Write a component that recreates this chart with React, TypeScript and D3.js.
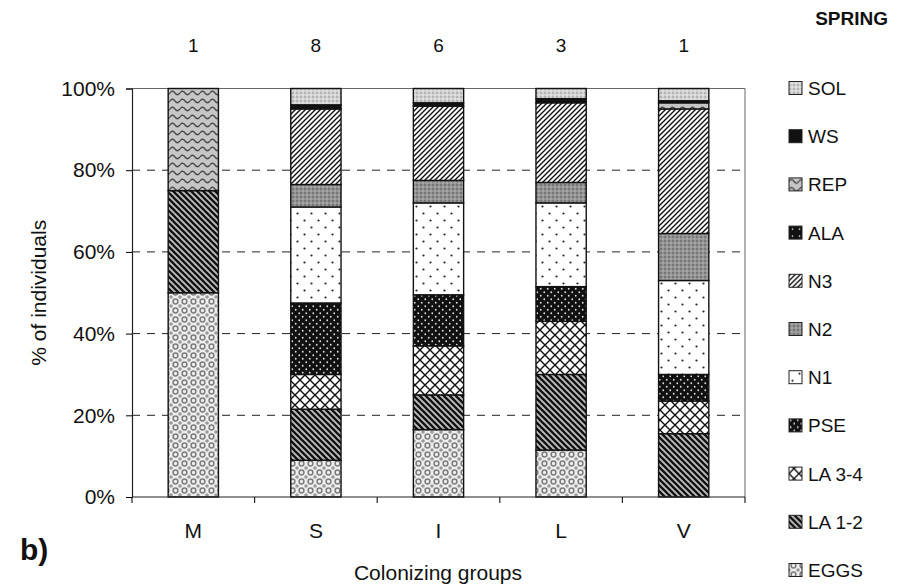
import React, { useRef, useEffect } from 'react';
import * as d3 from 'd3';

// colonizing groups and number of individuals in each
const categories = ['M', 'S', 'I', 'L', 'V'];
const nIndividuals = [1, 8, 6, 3, 1];

// % of individuals per stage (bottom -> top), one value per group
const eggs = [50, 9, 16.5, 11.5, 0];
const la12 = [25, 12.5, 8.5, 18.5, 15.5];
const la34 = [0, 8.5, 12, 13, 8];
const pse = [0, 17.5, 12.5, 8.5, 6.5];
const n1 = [0, 23.5, 22.5, 20.5, 23];
const n2 = [0, 5.5, 5.5, 5, 11.5];
const n3 = [0, 18.5, 18.2, 19.5, 30.5];
const ala = [0, 0, 0, 0, 0];
const rep = [25, 0, 0, 0, 1.5];
const ws = [0, 1, 0.8, 1, 0.5];
const sol = [0, 4, 3.5, 2.5, 3];

const stages = ['EGGS', 'LA 1-2', 'LA 3-4', 'PSE', 'N1', 'N2', 'N3', 'ALA', 'REP', 'WS', 'SOL'];
const stageValues = [eggs, la12, la34, pse, n1, n2, n3, ala, rep, ws, sol];
const legendOrder = [...stages].reverse();
const yTicks = [0, 20, 40, 60, 80, 100];

const patId = (s) => 'pat-' + s.replace(/[^A-Za-z0-9]/g, '');

function addPatterns(defs) {
  const mk = (key, w, h, bg) => {
    const p = defs.append('pattern')
      .attr('id', patId(key))
      .attr('patternUnits', 'userSpaceOnUse')
      .attr('width', w).attr('height', h);
    p.append('rect').attr('width', w).attr('height', h).attr('fill', bg);
    return p;
  };
  const dot = (p, cx, cy, r, fill) => p.append('circle').attr('cx', cx).attr('cy', cy).attr('r', r).attr('fill', fill);

  // SOL - light fine stipple
  let p = mk('SOL', 4, 4, '#d2d2d2');
  dot(p, 1, 1, 0.7, '#808080'); dot(p, 3, 3, 0.7, '#f4f4f4');

  // WS - solid black
  mk('WS', 4, 4, '#111');

  // REP - grey with wavy lines
  p = mk('REP', 10, 8, '#c6c6c6');
  p.append('path').attr('d', 'M0,5 Q2.5,1.5 5,5 T10,5').attr('fill', 'none').attr('stroke', '#4a4a4a').attr('stroke-width', 1.3);

  // ALA - black with sparse white dot
  p = mk('ALA', 7, 7, '#111');
  dot(p, 3.5, 3.5, 0.8, '#fff');

  // N3 - forward diagonal hatch
  p = mk('N3', 5, 5, '#fff');
  p.append('path').attr('d', 'M-1,1 L1,-1 M0,5 L5,0 M4,6 L6,4').attr('stroke', '#111').attr('stroke-width', 1.4);

  // N2 - darker grey stipple
  p = mk('N2', 4, 4, '#939393');
  dot(p, 1, 1, 0.8, '#555'); dot(p, 3, 3, 0.7, '#c4c4c4');

  // N1 - white with sparse dots
  p = mk('N1', 14, 14, '#fff');
  dot(p, 3.5, 3.5, 1.1, '#222'); dot(p, 10.5, 10.5, 1.1, '#222');

  // PSE - black with white dots
  p = mk('PSE', 7, 7, '#111');
  dot(p, 1.75, 1.75, 0.9, '#ddd'); dot(p, 5.25, 5.25, 0.9, '#ddd');

  // LA 3-4 - crosshatch
  p = mk('LA 3-4', 10, 10, '#fff');
  p.append('path').attr('d', 'M0,0 L10,10 M10,0 L0,10').attr('stroke', '#111').attr('stroke-width', 1.4);

  // LA 1-2 - thick back diagonal lines on grey
  p = mk('LA 1-2', 6, 6, '#bdbdbd');
  p.append('path').attr('d', 'M-3,3 L3,9 M0,0 L6,6 M3,-3 L9,3').attr('stroke', '#111').attr('stroke-width', 2.3);

  // EGGS - light grey with round blobs
  p = mk('EGGS', 9, 9, '#eeeeee');
  p.append('circle').attr('cx', 4.5).attr('cy', 4.5).attr('r', 2.4).attr('fill', 'none').attr('stroke', '#7c7c7c').attr('stroke-width', 1.5);
  [[0, 0], [9, 0], [0, 9], [9, 9]].forEach(([cx, cy]) => dot(p, cx, cy, 1.8, '#9a9a9a'));
}

const App = () => {
  const svgRef = useRef(null);
  const width = 898;
  const height = 587;

  useEffect(() => {
    const svg = d3.select(svgRef.current);
    svg.selectAll('*').remove();
    const font = 'Liberation Sans, Arial, sans-serif';

    addPatterns(svg.append('defs'));

    const x = d3.scaleBand().domain(categories).range([132, 745]).paddingInner(0.59).paddingOuter(0.295);
    const y = d3.scaleLinear().domain([0, 100]).range([497, 88.5]);

    const rows = categories.map((c, i) => {
      const r = { group: c };
      stages.forEach((s, k) => { r[s] = stageValues[k][i]; });
      return r;
    });
    const series = d3.stack().keys(stages)(rows);

    // plot frame (top + right)
    svg.append('path')
      .attr('d', `M132,${y(100)} H745 V${y(0)}`)
      .attr('fill', 'none').attr('stroke', '#666').attr('stroke-width', 1);

    // dashed gridlines
    svg.append('g').selectAll('line')
      .data(yTicks.filter(t => t > 0 && t < 100))
      .enter().append('line')
      .attr('x1', 132).attr('x2', 745)
      .attr('y1', d => y(d)).attr('y2', d => y(d))
      .attr('stroke', '#222').attr('stroke-width', 1).attr('stroke-dasharray', '8,7');

    // bars
    svg.append('g').selectAll('g')
      .data(series)
      .enter().append('g')
      .attr('fill', d => `url(#${patId(d.key)})`)
      .selectAll('rect')
      .data(d => d.filter(v => v[1] - v[0] > 0))
      .enter().append('rect')
      .attr('x', d => x(d.data.group))
      .attr('width', x.bandwidth())
      .attr('y', d => y(d[1]))
      .attr('height', d => y(d[0]) - y(d[1]))
      .attr('stroke', '#111').attr('stroke-width', 1.4);

    // y axis
    const yAxis = svg.append('g')
      .attr('transform', 'translate(132,0)')
      .call(d3.axisLeft(y).tickValues(yTicks).tickFormat(d => d + '%').tickSize(6).tickPadding(11));
    yAxis.select('.domain').attr('stroke', '#222').attr('stroke-width', 1.2);
    yAxis.selectAll('text').attr('font-size', 21).attr('font-family', font).attr('fill', '#111');

    // x axis: line + ticks between groups
    svg.append('line').attr('x1', 132).attr('x2', 745).attr('y1', y(0)).attr('y2', y(0))
      .attr('stroke', '#222').attr('stroke-width', 1.2);
    svg.append('g').selectAll('line')
      .data(d3.range(categories.length + 1))
      .enter().append('line')
      .attr('x1', i => 132 + i * x.step()).attr('x2', i => 132 + i * x.step())
      .attr('y1', y(0)).attr('y2', y(0) + 6)
      .attr('stroke', '#222').attr('stroke-width', 1.2);
    svg.append('g').selectAll('text')
      .data(categories)
      .enter().append('text')
      .attr('x', d => x(d) + x.bandwidth() / 2)
      .attr('y', 538)
      .attr('text-anchor', 'middle')
      .attr('font-size', 21).attr('font-family', font).attr('fill', '#111')
      .text(d => d);

    // n above bars
    svg.append('g').selectAll('text')
      .data(categories)
      .enter().append('text')
      .attr('x', d => x(d) + x.bandwidth() / 2)
      .attr('y', 52)
      .attr('text-anchor', 'middle')
      .attr('font-size', 19).attr('font-family', font).attr('fill', '#111')
      .text((d, i) => nIndividuals[i]);

    // axis titles
    svg.append('text')
      .attr('transform', `translate(46,${(y(0) + y(100)) / 2}) rotate(-90)`)
      .attr('text-anchor', 'middle')
      .attr('font-size', 21).attr('font-family', font).attr('fill', '#111')
      .text('% of individuals');
    svg.append('text')
      .attr('x', 438).attr('y', 580)
      .attr('text-anchor', 'middle')
      .attr('font-size', 21).attr('font-family', font).attr('fill', '#111')
      .text('Colonizing groups');
    svg.append('text')
      .attr('x', 20).attr('y', 560)
      .attr('font-size', 30).attr('font-weight', 'bold').attr('font-family', font).attr('fill', '#111')
      .text('b)');

    // legend
    svg.append('text')
      .attr('x', 888).attr('y', 25)
      .attr('text-anchor', 'end')
      .attr('font-size', 19).attr('font-weight', 'bold').attr('font-family', font).attr('fill', '#111')
      .text('SPRING');
    const leg = svg.append('g').selectAll('g')
      .data(legendOrder)
      .enter().append('g')
      .attr('transform', (d, i) => `translate(789,${88 + i * 48.2})`);
    leg.append('rect')
      .attr('x', 0).attr('y', -6.5).attr('width', 13).attr('height', 13)
      .attr('fill', d => `url(#${patId(d)})`)
      .attr('stroke', '#222').attr('stroke-width', 1);
    leg.append('text')
      .attr('x', 19).attr('y', 7)
      .attr('font-size', 19).attr('font-family', font).attr('fill', '#111')
      .text(d => d);
  }, []);

  return (
    <div style={{ position: 'absolute', left: 0, top: 0 }}>
      <svg ref={svgRef} width={width} height={height} style={{ display: 'block', background: '#fff' }}></svg>
    </div>
  );
};

export default App;
